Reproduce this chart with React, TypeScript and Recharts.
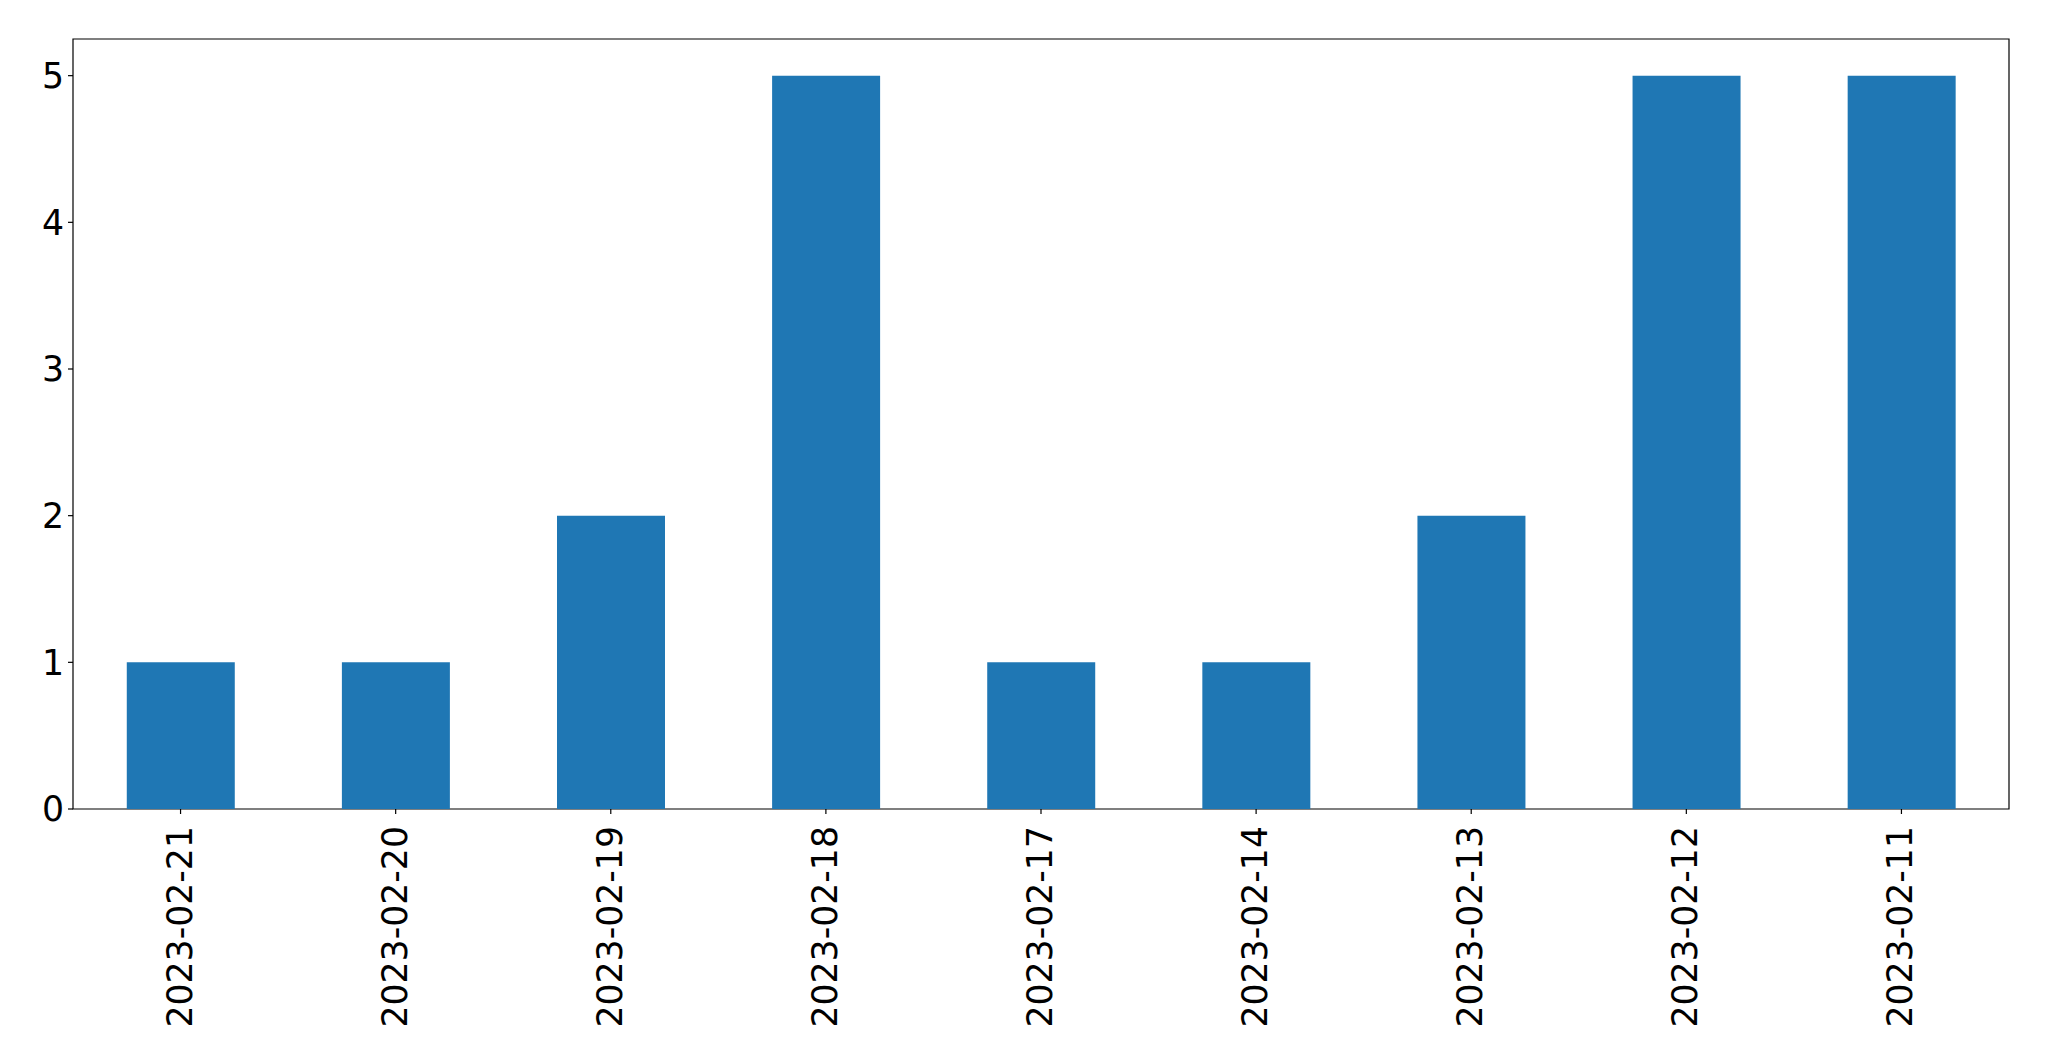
import React from 'react';
import { BarChart, Bar, XAxis, YAxis, ReferenceArea } from 'recharts';

const dates = ['2023-02-21', '2023-02-20', '2023-02-19', '2023-02-18', '2023-02-17', '2023-02-14', '2023-02-13', '2023-02-12', '2023-02-11'];
const counts = [1, 1, 2, 5, 1, 1, 2, 5, 5];
const yTicks = [0, 1, 2, 3, 4, 5];
const yMax = 5.25;

const data = dates.map((d, i) => ({ date: d, count: counts[i] }));

const FONT = 'DejaVu Sans, sans-serif';

// rotated date labels, reading bottom to top
function DateTick(props: any) {
    const { x, y, payload } = props;
    const bx = x + 11;
    return (
        <text
            x={bx}
            y={y}
            transform={`rotate(-90, ${bx}, ${y})`}
            textAnchor="end"
            fontSize={34.7}
            fontFamily={FONT}
            fill="#000000"
        >
            {payload.value}
        </text>
    );
}

export default function App() {
    return (
        <div style={{ position: 'absolute', left: 0, top: 0, background: '#ffffff' }}>
            <BarChart
                width={2049}
                height={1061}
                data={data}
                margin={{ top: 39, right: 40, bottom: 0, left: 0 }}
                barCategoryGap="25%"
                style={{ fontFamily: FONT }}
            >
                <XAxis
                    dataKey="date"
                    height={252}
                    interval={0}
                    tickSize={5}
                    tickMargin={12}
                    axisLine={false}
                    tickLine={{ stroke: '#000000', strokeWidth: 1.2 }}
                    tick={<DateTick />}
                />
                <YAxis
                    width={73}
                    domain={[0, yMax]}
                    ticks={yTicks}
                    allowDataOverflow
                    tickSize={5}
                    tickMargin={4}
                    axisLine={false}
                    tickLine={{ stroke: '#000000', strokeWidth: 1.2 }}
                    tick={{ fontSize: 34.7, fill: '#000000', fontFamily: FONT }}
                />
                <Bar
                    dataKey="count"
                    fill="#1f77b4"
                    isAnimationActive={false}
                />
                {/* frame around the plot area */}
                <ReferenceArea
                    y1={0}
                    y2={yMax}
                    fill="none"
                    fillOpacity={0}
                    stroke="#000000"
                    strokeWidth={1.2}
                    ifOverflow="visible"
                />
            </BarChart>
        </div>
    );
}
